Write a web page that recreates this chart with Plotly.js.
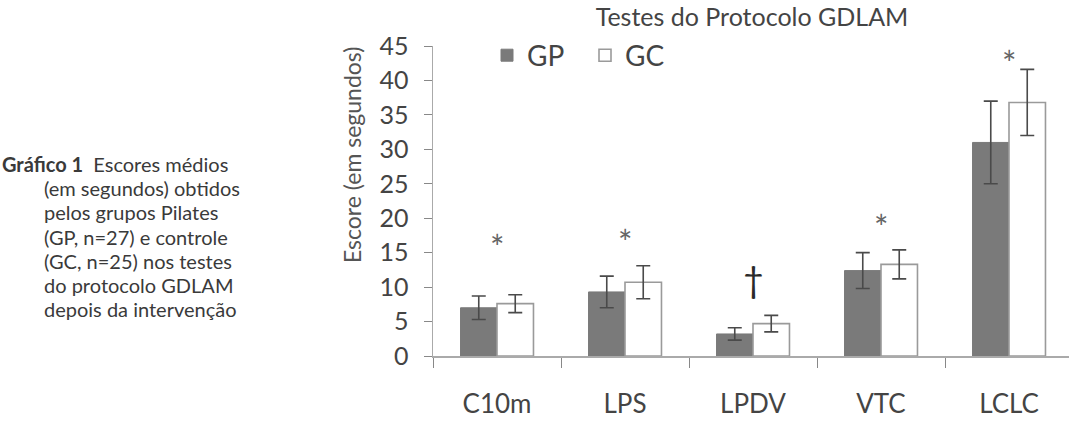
<!DOCTYPE html>
<html>
<head>
<meta charset="utf-8">
<script src="https://cdn.plot.ly/plotly-3.0.1.min.js"></script>
<style>html,body{margin:0;padding:0;background:#fff;}#chart{width:1069px;height:421px;}</style>
</head>
<body>
<div id="chart"></div>
<script>
const categories = ["C10m", "LPS", "LPDV", "VTC", "LCLC"];
const gpValues = [7.0, 9.3, 3.2, 12.4, 31.0];
const gpErrors = [1.7, 2.3, 0.9, 2.6, 6.0];
const gcValues = [7.6, 10.7, 4.7, 13.3, 36.8];
const gcErrors = [1.3, 2.4, 1.2, 2.1, 4.8];
const markLabels = ["*", "*", "†", "*", "*"];
const markHeights = [17.1, 17.8, 11.2, 19.9, 43.7];
const yTicks = [0, 5, 10, 15, 20, 25, 30, 35, 40, 45];
const captionLines = [
  "<b>Gráfico 1</b>  Escores médios",
  "(em segundos) obtidos",
  "pelos grupos Pilates",
  "(GP, n=27) e controle",
  "(GC, n=25) nos testes",
  "do protocolo GDLAM",
  "depois da intervenção"
];

const FONT = "Lato, 'Open Sans', sans-serif";
const W = 1069, L = 433, T = 46, B = 356;
const px2x = p => (p - L) / (W - L);
const py2y = p => (B - p) / (B - T);

const traces = [
  {
    type: "bar", name: "GP", x: categories, y: gpValues,
    marker: {color: "#7a7a7a", line: {color: "#7a7a7a", width: 1}},
    error_y: {type: "data", array: gpErrors, visible: true, color: "#4a4a4a", thickness: 1.6, width: 7}
  },
  {
    type: "bar", name: "GC", x: categories, y: gcValues,
    marker: {color: "#ffffff", line: {color: "#9a9a9a", width: 1.6}},
    error_y: {type: "data", array: gcErrors, visible: true, color: "#4a4a4a", thickness: 1.6, width: 7}
  }
];

const annotations = [];
categories.forEach((c, i) => {
  const dag = markLabels[i] === "†";
  annotations.push({
    x: c, y: markHeights[i], xref: "x", yref: "y", text: markLabels[i],
    showarrow: false, xanchor: "center", yanchor: "middle", yshift: dag ? 0 : -8,
    font: {family: FONT, size: dag ? 36 : 34, color: dag ? "#2a2a2a" : "#666"}
  });
});
captionLines.forEach((t, i) => {
  annotations.push({
    x: i === 0 ? px2x(0) : px2x(42), y: py2y(164 + i * 24.2), xref: "paper", yref: "paper",
    text: t, showarrow: false, xanchor: "left", yanchor: "middle",
    font: {family: FONT, size: 20, color: "#3a3a3a"}
  });
});
annotations.push({
  x: px2x(352), y: py2y(155), xref: "paper", yref: "paper",
  text: "Escore (em segundos)", textangle: -90, showarrow: false,
  xanchor: "center", yanchor: "middle",
  font: {family: FONT, size: 23, color: "#555"}
});

const layout = {
  width: 1069, height: 421,
  margin: {l: L, r: 0, t: T, b: 421 - B, pad: 0},
  paper_bgcolor: "#fff", plot_bgcolor: "#fff",
  title: {text: "Testes do Protocolo GDLAM", x: 752 / W, xanchor: "center", y: 1 - 17 / 421, yanchor: "middle",
          font: {family: FONT, size: 25, color: "#444"}},
  barmode: "group", bargap: 0.43, bargroupgap: 0,
  showlegend: true,
  legend: {orientation: "h", x: px2x(487), y: 1.05, xanchor: "left", yanchor: "top",
           entrywidth: 53, entrywidthmode: "pixels",
           font: {family: FONT, size: 28, color: "#444"}, bgcolor: "rgba(0,0,0,0)", itemwidth: 30, tracegroupgap: 0},
  xaxis: {
    type: "category", range: [-0.5, -0.5 + (W - L) / 128], fixedrange: true,
    showline: true, linecolor: "#aaa", linewidth: 1.5,
    ticks: "outside", tickson: "boundaries", ticklen: 10, tickcolor: "#888", tickwidth: 1,
    ticklabelstandoff: 24,
    tickfont: {family: FONT, size: 26, color: "#444"},
    showgrid: false, zeroline: false
  },
  yaxis: {
    range: [0, 45], tickvals: yTicks, ticktext: yTicks.map(String),
    showline: true, linecolor: "#aaa", linewidth: 1.5,
    ticks: "outside", ticklen: 8, tickcolor: "#888", tickwidth: 1,
    ticklabelstandoff: 10,
    tickfont: {family: FONT, size: 25, color: "#444"},
    showgrid: false, zeroline: false
  },
  annotations: annotations
};

Plotly.newPlot("chart", traces, layout, {displayModeBar: false, staticPlot: true});
</script>
</body>
</html>
